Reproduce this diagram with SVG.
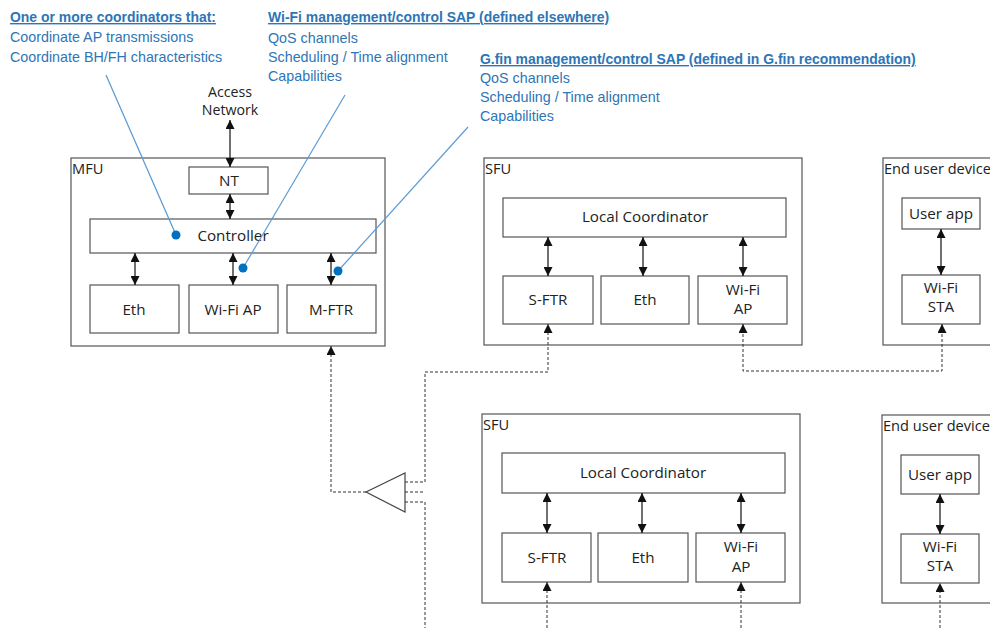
<svg xmlns="http://www.w3.org/2000/svg" width="990" height="628" viewBox="0 0 990 628">
<style>
.box{fill:#fff;stroke:#555;stroke-width:1.2}
.lbl{font-family:"Open Sans","Liberation Sans",Arial,sans-serif;font-size:15.2px;fill:#222;text-anchor:middle}
.ttl{font-family:"Open Sans","Liberation Sans",Arial,sans-serif;font-size:14.6px;fill:#222}
.blue{font-family:"Liberation Sans",Arial,sans-serif;font-size:14.3px;fill:#2E75B6}
.head{font-weight:bold;text-decoration:underline;font-size:13.95px}
.arr{stroke:#111;stroke-width:1.2;fill:none;marker-start:url(#ah);marker-end:url(#ah)}
.dash{stroke:#333;stroke-width:1;fill:none;stroke-dasharray:3 2}
.dashA{stroke:#333;stroke-width:1;fill:none;stroke-dasharray:3 2;marker-end:url(#ah)}
.dashAA{stroke:#333;stroke-width:1;fill:none;stroke-dasharray:3 2;marker-start:url(#ah);marker-end:url(#ah)}
.bl{stroke:#5B9BD5;stroke-width:1.2;fill:none}
.dot{fill:#0070C0}
</style>
<defs>
<marker id="ah" viewBox="0 0 9 9" refX="9" refY="4.5" markerWidth="9" markerHeight="9" markerUnits="userSpaceOnUse" orient="auto-start-reverse">
<path d="M0,0 L9,4.5 L0,9 z" fill="#111"/>
</marker>
</defs>
<rect width="990" height="628" fill="#fff"/>

<g id="annotations">
<text class="blue head" x="10" y="22">One or more coordinators that:</text>
<text class="blue" x="10" y="42">Coordinate AP transmissions</text>
<text class="blue" x="10" y="62">Coordinate BH/FH characteristics</text>
<text class="blue head" x="268" y="22">Wi-Fi management/control SAP (defined elsewhere)</text>
<text class="blue" x="268" y="43">QoS channels</text>
<text class="blue" x="268" y="62">Scheduling / Time alignment</text>
<text class="blue" x="268" y="81">Capabilities</text>
<text class="blue head" x="480" y="64">G.fin management/control SAP (defined in G.fin recommendation)</text>
<text class="blue" x="480" y="83">QoS channels</text>
<text class="blue" x="480" y="102">Scheduling / Time alignment</text>
<text class="blue" x="480" y="121">Capabilities</text>
<text class="lbl" x="230" y="97" style="font-size:14.2px">Access</text>
<text class="lbl" x="230" y="115" style="font-size:14.2px">Network</text>
</g>

<g id="MFU">
<rect class="box" x="71" y="158" width="314" height="188"/>
<text class="ttl" x="72" y="174">MFU</text>
</g>
<g id="NT"><rect class="box" x="189" y="167" width="79" height="27"/><text class="lbl" x="229" y="186">NT</text></g>
<g id="Controller"><rect class="box" x="90" y="219" width="286" height="34"/><text class="lbl" x="233" y="241">Controller</text></g>
<g id="MFU-Eth"><rect class="box" x="90" y="285" width="89" height="48"/><text class="lbl" x="134" y="315">Eth</text></g>
<g id="MFU-WiFiAP"><rect class="box" x="189" y="285" width="89" height="48"/><text class="lbl" x="233" y="315">Wi-Fi AP</text></g>
<g id="M-FTR"><rect class="box" x="287" y="285" width="89" height="48"/><text class="lbl" x="331" y="315">M-FTR</text></g>

<g id="SFU1">
<rect class="box" x="484" y="158" width="318" height="187"/>
<text class="ttl" x="485" y="174">SFU</text>
</g>
<g id="SFU1-LC"><rect class="box" x="503" y="198" width="283" height="39"/><text class="lbl" x="645" y="222">Local Coordinator</text></g>
<g id="SFU1-SFTR"><rect class="box" x="503" y="276" width="90" height="48"/><text class="lbl" x="548" y="305">S-FTR</text></g>
<g id="SFU1-Eth"><rect class="box" x="601" y="276" width="88" height="48"/><text class="lbl" x="645" y="305">Eth</text></g>
<g id="SFU1-WiFiAP"><rect class="box" x="698" y="276" width="89" height="48"/><text class="lbl" x="743" y="295">Wi-Fi</text><text class="lbl" x="743" y="314">AP</text></g>

<g id="EUD1">
<rect class="box" x="883" y="158" width="120" height="187"/>
<text class="ttl" x="884" y="174">End user device</text>
</g>
<g id="EUD1-App"><rect class="box" x="902" y="198" width="78" height="31"/><text class="lbl" x="941" y="219">User app</text></g>
<g id="EUD1-STA"><rect class="box" x="902" y="275" width="78" height="49"/><text class="lbl" x="941" y="293">Wi-Fi</text><text class="lbl" x="941" y="312">STA</text></g>

<g id="SFU2">
<rect class="box" x="482" y="414" width="318" height="189"/>
<text class="ttl" x="483" y="430">SFU</text>
</g>
<g id="SFU2-LC"><rect class="box" x="502" y="453" width="283" height="40"/><text class="lbl" x="643" y="478">Local Coordinator</text></g>
<g id="SFU2-SFTR"><rect class="box" x="502" y="533" width="89" height="49"/><text class="lbl" x="547" y="563">S-FTR</text></g>
<g id="SFU2-Eth"><rect class="box" x="598" y="533" width="90" height="49"/><text class="lbl" x="643" y="563">Eth</text></g>
<g id="SFU2-WiFiAP"><rect class="box" x="696" y="533" width="89" height="49"/><text class="lbl" x="741" y="552">Wi-Fi</text><text class="lbl" x="741" y="572">AP</text></g>

<g id="EUD2">
<rect class="box" x="882" y="415" width="120" height="188"/>
<text class="ttl" x="883" y="431">End user device</text>
</g>
<g id="EUD2-App"><rect class="box" x="901" y="455" width="78" height="39"/><text class="lbl" x="940" y="480">User app</text></g>
<g id="EUD2-STA"><rect class="box" x="901" y="534" width="78" height="49"/><text class="lbl" x="940" y="552">Wi-Fi</text><text class="lbl" x="940" y="571">STA</text></g>

<g id="Splitter">
<polygon points="366,492 405,473 405,512" fill="#fff" stroke="#444" stroke-width="1.2"/>
</g>

<g id="connectors">
<line class="arr" x1="230" y1="120" x2="230" y2="167"/>
<line class="arr" x1="230" y1="194" x2="230" y2="219"/>
<line class="arr" x1="135" y1="253" x2="135" y2="285"/>
<line class="arr" x1="233" y1="253" x2="233" y2="285"/>
<line class="arr" x1="331" y1="253" x2="331" y2="285"/>
<line class="arr" x1="548" y1="237" x2="548" y2="276"/>
<line class="arr" x1="643" y1="237" x2="643" y2="276"/>
<line class="arr" x1="743" y1="237" x2="743" y2="276"/>
<line class="arr" x1="941" y1="229" x2="941" y2="275"/>
<line class="arr" x1="547" y1="493" x2="547" y2="533"/>
<line class="arr" x1="642" y1="493" x2="642" y2="533"/>
<line class="arr" x1="741" y1="493" x2="741" y2="533"/>
<line class="arr" x1="940" y1="494" x2="940" y2="534"/>

<path class="dashA" d="M366,492 H331 V346"/>
<path class="dashA" d="M405,482 H425 V372 H548 V324"/>
<path class="dash" d="M405,492 H425"/>
<path class="dash" d="M405,502 H425 V628"/>
<path class="dashAA" d="M743,324 V371 H942 V324"/>
<path class="dashA" d="M547,628 V582"/>
<path class="dashA" d="M741,628 V582"/>
<path class="dashA" d="M940,628 V583"/>

<line class="bl" x1="106" y1="75" x2="176" y2="235"/>
<line class="bl" x1="345" y1="95" x2="243" y2="268"/>
<line class="bl" x1="468" y1="127" x2="338" y2="271"/>
<circle class="dot" cx="176" cy="235" r="4.5"/>
<circle class="dot" cx="243" cy="268" r="4.5"/>
<circle class="dot" cx="338" cy="271" r="4.5"/>
</g>
</svg>
